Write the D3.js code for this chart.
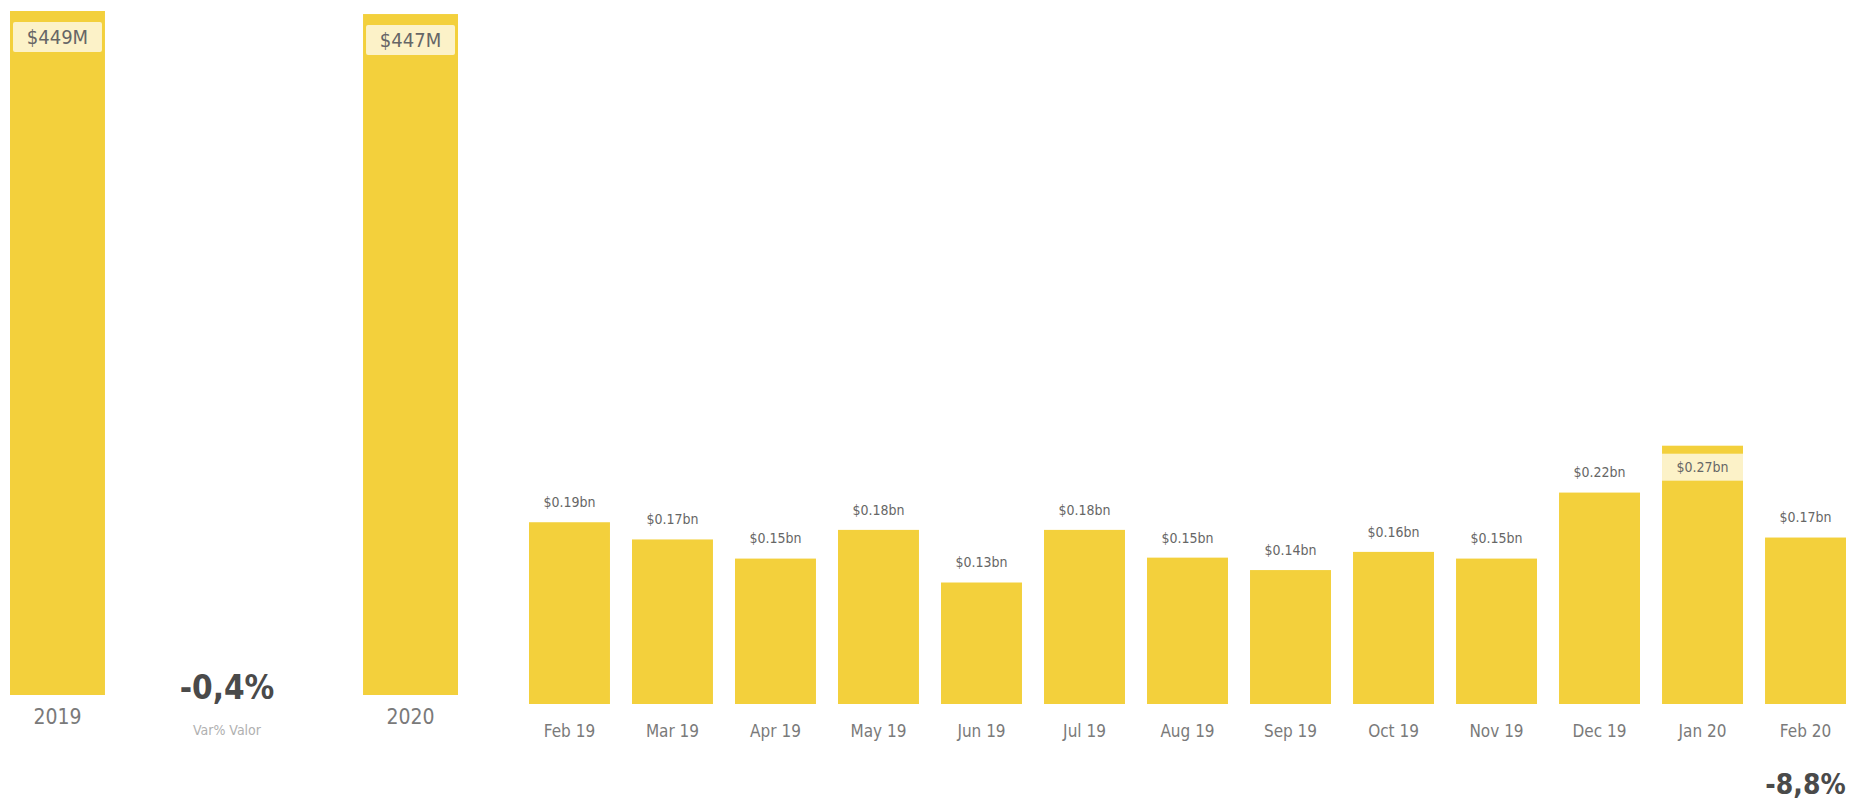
<!DOCTYPE html>
<html>
<head>
<meta charset="utf-8">
<script src="https://cdn.jsdelivr.net/npm/d3@7"></script>
<style>
  body { margin: 0; background: #fff; }
  svg { display: block; font-family: "DejaVu Sans Condensed", Roboto, sans-serif; }
</style>
</head>
<body>
<svg id="chart" width="1873" height="803"></svg>
<script>
const width = 1873;
const height = 803;

// yearly totals ($M)
const years = ['2019', '2020'];
const yearValues = [449, 447];
const yearVar = '-0,4%';
const yearVarLabel = 'Var% Valor';

// monthly values ($bn)
const months = ['Feb 19', 'Mar 19', 'Apr 19', 'May 19', 'Jun 19', 'Jul 19', 'Aug 19',
  'Sep 19', 'Oct 19', 'Nov 19', 'Dec 19', 'Jan 20', 'Feb 20'];
const monthValues = [0.190, 0.172, 0.152, 0.182, 0.127, 0.182, 0.153,
  0.140, 0.159, 0.152, 0.221, 0.270, 0.174];
const monthVar = '-8,8%';

const barColor = '#F3D03C';
const svg = d3.select('#chart');

// yearly chart
const xYear = d3.scaleBand().domain(years).range([10, 458]).paddingInner(0.731).paddingOuter(0);
const yYear = d3.scaleLinear().domain([0, 449]).range([695, 11]);

const yearData = years.map((y, i) => ({ year: y, value: yearValues[i] }));

const yg = svg.append('g').attr('class', 'years');
yg.selectAll('rect.bar')
  .data(yearData)
  .join('rect')
  .attr('class', 'bar')
  .attr('x', d => xYear(d.year))
  .attr('y', d => yYear(d.value))
  .attr('width', xYear.bandwidth())
  .attr('height', d => yYear(0) - yYear(d.value))
  .attr('fill', barColor);

// labels sit inside the top of the bar on a pale box
yg.selectAll('rect.lblbox')
  .data(yearData)
  .join('rect')
  .attr('class', 'lblbox')
  .attr('x', d => xYear(d.year) + 3)
  .attr('y', d => yYear(d.value) + 11)
  .attr('width', xYear.bandwidth() - 6)
  .attr('height', 30)
  .attr('rx', 2)
  .attr('fill', '#fff')
  .attr('fill-opacity', 0.72);

yg.selectAll('text.val')
  .data(yearData)
  .join('text')
  .attr('class', 'val')
  .attr('x', d => xYear(d.year) + xYear.bandwidth() / 2)
  .attr('y', d => yYear(d.value) + 26)
  .attr('dy', '0.35em')
  .attr('text-anchor', 'middle')
  .attr('font-size', 20)
  .attr('fill', '#666')
  .text(d => '$' + d.value + 'M');

svg.append('g')
  .attr('transform', `translate(0, ${yYear(0)})`)
  .call(d3.axisBottom(xYear).tickSize(0).tickPadding(14))
  .call(g => g.select('.domain').remove())
  .call(g => g.selectAll('text')
    .attr('font-size', 21)
    .attr('fill', '#7a7a7a')
    .attr('font-family', '"DejaVu Sans Condensed", Roboto, sans-serif'));

svg.append('text')
  .attr('x', 227).attr('y', 687).attr('dy', '0.35em')
  .attr('text-anchor', 'middle')
  .attr('font-size', 33).attr('font-weight', 'bold')
  .attr('fill', '#4a4a4a')
  .text(yearVar);

svg.append('text')
  .attr('x', 227).attr('y', 730).attr('dy', '0.35em')
  .attr('text-anchor', 'middle')
  .attr('font-size', 14)
  .attr('fill', '#b0b0b0')
  .text(yearVarLabel);

// monthly chart
const xMonth = d3.scaleBand().domain(months).range([529, 1846]).paddingInner(0.214).paddingOuter(0);
const yMonth = d3.scaleLinear().domain([0, 0.3]).range([704, 417]);
const plotTop = 425;

const monthData = months.map((m, i) => ({ month: m, value: monthValues[i] }));
const fmt = d => '$' + d3.format('.2f')(d) + 'bn';
const inside = d => yMonth(d.value) - 34 < plotTop;

const mg = svg.append('g').attr('class', 'months');
mg.selectAll('rect.bar')
  .data(monthData)
  .join('rect')
  .attr('class', 'bar')
  .attr('x', d => xMonth(d.month))
  .attr('y', d => yMonth(d.value))
  .attr('width', xMonth.bandwidth())
  .attr('height', d => yMonth(0) - yMonth(d.value))
  .attr('fill', barColor);

mg.selectAll('rect.lblbox')
  .data(monthData.filter(inside))
  .join('rect')
  .attr('class', 'lblbox')
  .attr('x', d => xMonth(d.month))
  .attr('y', d => yMonth(d.value) + 8)
  .attr('width', xMonth.bandwidth())
  .attr('height', 27)
  .attr('fill', '#fff')
  .attr('fill-opacity', 0.72);

mg.selectAll('text.val')
  .data(monthData)
  .join('text')
  .attr('class', 'val')
  .attr('x', d => xMonth(d.month) + xMonth.bandwidth() / 2)
  .attr('y', d => inside(d) ? yMonth(d.value) + 21 : yMonth(d.value) - 20)
  .attr('dy', '0.35em')
  .attr('text-anchor', 'middle')
  .attr('font-size', 14)
  .attr('fill', '#666')
  .text(d => fmt(d.value));

svg.append('g')
  .attr('transform', `translate(0, ${yMonth(0)})`)
  .call(d3.axisBottom(xMonth).tickSize(0).tickPadding(21))
  .call(g => g.select('.domain').remove())
  .call(g => g.selectAll('text')
    .attr('font-size', 17)
    .attr('fill', '#7a7a7a')
    .attr('font-family', '"DejaVu Sans Condensed", Roboto, sans-serif'));

svg.append('text')
  .attr('x', xMonth('Feb 20') + xMonth.bandwidth() / 2).attr('y', 784).attr('dy', '0.35em')
  .attr('text-anchor', 'middle')
  .attr('font-size', 28).attr('font-weight', 'bold')
  .attr('fill', '#4a4a4a')
  .text(monthVar);
</script>
</body>
</html>
